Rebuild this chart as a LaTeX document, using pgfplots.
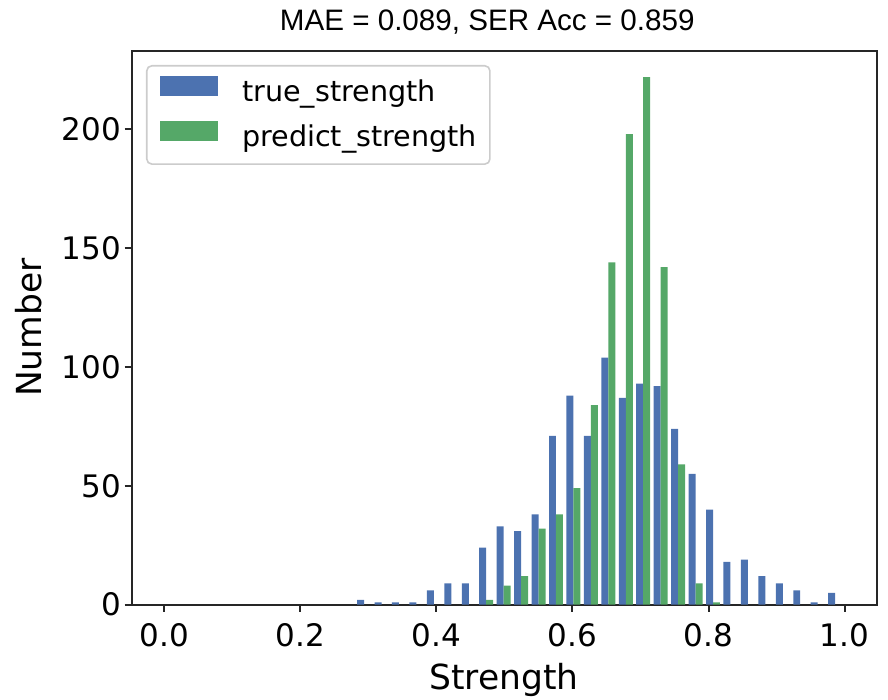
\documentclass[border=0pt]{standalone}
\usepackage{pgfplots}
\pgfplotsset{compat=1.18}
\usepackage{fontspec}
\setmainfont{DejaVu Sans}
\newfontfamily\titlefont{Liberation Sans}
\definecolor{cblue}{HTML}{4C72B0}
\definecolor{cgreen}{HTML}{55A868}
\definecolor{spine}{HTML}{262626}
\begin{document}
\begin{tikzpicture}
\begin{axis}[
  scale only axis,
  width=744.8pt, height=554pt,
  xmin=-0.048, xmax=1.047,
  ymin=0, ymax=233.1,
  axis line style={spine, line width=2pt},
  every tick/.style={spine, line width=2pt},
  tick align=outside,
  major tick length=7pt,
  xtick pos=left, ytick pos=left,
  xtick={0,0.2,0.4,0.6,0.8,1.0},
  ytick={0,50,100,150,200},
  minor tick num=0,
  /pgf/number format/assume math mode=true,
  xticklabel style={/pgf/number format/fixed, /pgf/number format/fixed zerofill, /pgf/number format/precision=1},
  ticklabel style={font=\fontsize{31}{37}\selectfont},
  xticklabel style={anchor=base, yshift=-35pt},
  yticklabel style={anchor=east},
  scaled ticks=false,
  xlabel={Strength},
  ylabel={Number},
  label style={font=\fontsize{34.5}{40}\selectfont},
  xlabel style={at={(axis description cs:0.5,0)}, anchor=base, yshift=-84.6pt},
  ylabel style={at={(axis description cs:-0.1209,0.5)}, anchor=base, rotate=0},
  title={\titlefont MAE = 0.089, SER Acc = 0.859},
  title style={at={(axis description cs:0.4774,1)}, anchor=base, yshift=13.7pt, font=\fontsize{29.6}{34}\selectfont},
  legend cell align=left,
  legend style={
    at={(axis description cs:0,1)}, anchor=north west,
    xshift=14.3pt, yshift=-14.3pt,
    draw=black!20, line width=1.6pt, rounded corners=5pt, fill=white,
    inner xsep=13pt, inner ysep=10.5pt,
    row sep=11.9pt,
    font=\fontsize{28.6}{34}\selectfont,
    nodes={inner sep=0pt, text height=24pt, text depth=7.4pt},
    /tikz/every odd column/.append style={column sep=24.7pt},
  },
]
\addplot[ybar, bar width=0.01026, bar shift=0pt, fill=cblue, draw=none,
  legend image code/.code={\fill[cblue, sharp corners] (0pt,-3pt) rectangle (57.7pt,17pt);}]
coordinates {
(0.28850,2) (0.31415,1) (0.33980,1) (0.36545,1) (0.39110,6) (0.41675,9)
(0.44240,9) (0.46805,24) (0.49370,33) (0.51935,31) (0.54500,38) (0.57065,71)
(0.59630,88) (0.62195,71) (0.64760,104) (0.67325,87) (0.69890,93) (0.72455,92)
(0.75020,74) (0.77585,55) (0.80150,40) (0.82715,18) (0.85280,19) (0.87845,12)
(0.90410,9) (0.92975,6) (0.95540,1) (0.98105,5)
};
\addlegendentry{true\_strength}
\addplot[ybar, bar width=0.01026, bar shift=0pt, fill=cgreen, draw=none,
  legend image code/.code={\fill[cgreen, sharp corners] (0pt,-3pt) rectangle (57.7pt,17pt);}]
coordinates {
(0.47831,2) (0.50396,8) (0.52961,12) (0.55526,32) (0.58091,38) (0.60656,49)
(0.63221,84) (0.65786,144) (0.68351,198) (0.70916,222) (0.73481,142) (0.76046,59)
(0.78611,9) (0.81176,1)
};
\addlegendentry{predict\_strength}
\end{axis}
\pgfresetboundingbox
\path[use as bounding box] (-131.7pt,-95.3pt) rectangle (756.3pt,604.7pt);
\end{tikzpicture}
\end{document}
